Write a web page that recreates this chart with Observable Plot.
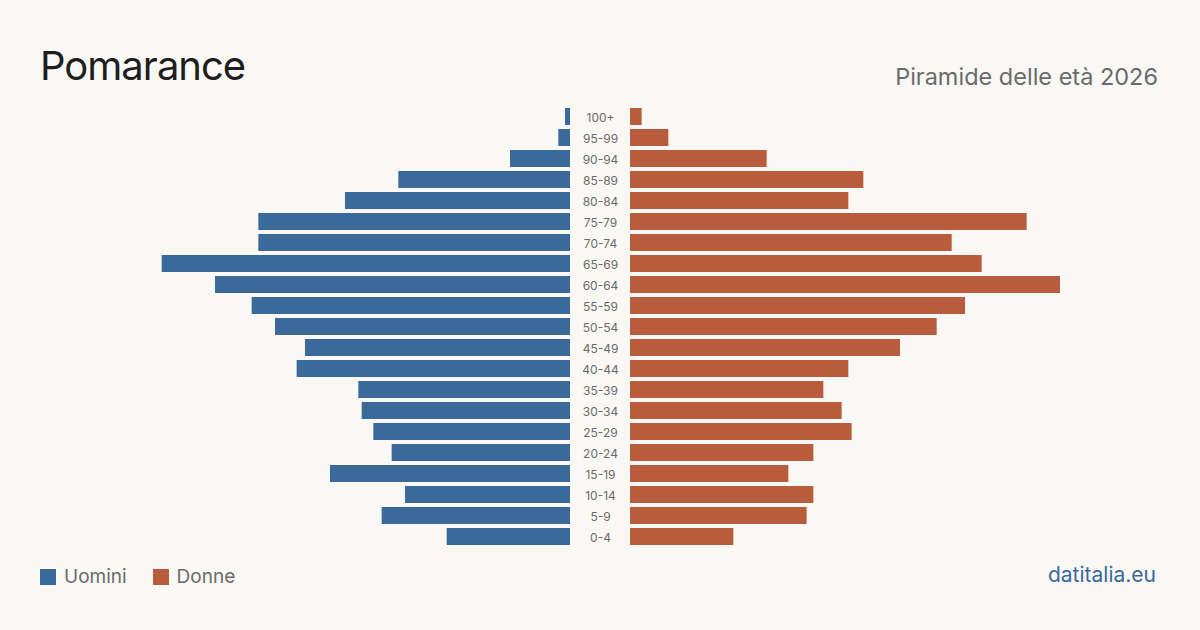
<!DOCTYPE html>
<html lang="it">
<head>
<meta charset="utf-8">
<script src="https://cdn.jsdelivr.net/npm/d3@7"></script>
<script src="https://cdn.jsdelivr.net/npm/@observablehq/plot@0.6"></script>
<style>
  html, body { margin: 0; padding: 0; background: #f9f8f4; }
  #page { position: relative; width: 1200px; height: 630px; overflow: hidden; background: #f9f8f4; font-family: Inter, "Noto Sans", sans-serif; }
  #title { position: absolute; left: 40px; top: 46px; font-size: 40px; color: #1e1e1e; line-height: 1; letter-spacing: -1px; }
  #subtitle { position: absolute; right: 42px; top: 65px; font-size: 23.5px; color: #6b6b6b; line-height: 1; }
  #legend { position: absolute; left: 40px; top: 567px; display: flex; align-items: center; font-size: 19px; color: #6b6b6b; line-height: 20px; }
  #legend .sw { width: 16px; height: 16px; display: inline-block; margin-right: 8px; }
  #legend .item { display: flex; align-items: center; margin-right: 26px; }
  #source { position: absolute; right: 44px; top: 565px; font-size: 21px; color: #3b6a9a; line-height: 20px; }
  #chart { position: absolute; left: 0; top: 0; }
</style>
</head>
<body>
<div id="page">
  <div id="chart"></div>
  <div id="title">Pomarance</div>
  <div id="subtitle">Piramide delle età 2026</div>
  <div id="legend">
    <span class="item"><span class="sw" style="background:#3b6a9a"></span>Uomini</span>
    <span class="item"><span class="sw" style="background:#b95c3c"></span>Donne</span>
  </div>
  <div id="source">datitalia.eu</div>
</div>
<script>
// Age classes, oldest first (top of the pyramid)
const ages = ["100+", "95-99", "90-94", "85-89", "80-84", "75-79", "70-74", "65-69", "60-64", "55-59",
  "50-54", "45-49", "40-44", "35-39", "30-34", "25-29", "20-24", "15-19", "10-14", "5-9", "0-4"];

// Residents by age class
const males   = [3, 7, 36, 103, 135, 187, 187, 245, 213, 191, 177, 159, 164, 127, 125, 118, 107, 144, 99, 113, 74];
const females = [7, 23, 82, 140, 131, 238, 193, 211, 258, 201, 184, 162, 131, 116, 127, 133, 110, 95, 110, 106, 62];

const colorMen = "#3b6a9a";
const colorWomen = "#b95c3c";

const rows = ages.map((age, i) => ({age, m: males[i], f: females[i]}));

const gap = 30; // half-width of the central label column

const chart = Plot.plot({
  width: 1200,
  height: 630,
  marginTop: 106,
  marginBottom: 83,
  marginLeft: 0,
  marginRight: 0,
  style: {background: "transparent", fontFamily: "Inter, 'Noto Sans', sans-serif"},
  x: {domain: [-360, 360], axis: null},
  y: {domain: ages, axis: null, paddingInner: 4 / 21, paddingOuter: 2 / 21},
  marks: [
    Plot.barX(rows, {y: "age", x1: 0, x2: d => -d.m, dx: -gap, fill: colorMen}),
    Plot.barX(rows, {y: "age", x1: 0, x2: d => d.f, dx: gap, fill: colorWomen}),
    Plot.text(rows, {y: "age", x: 0, text: "age", fill: "#6b6b6b", fontSize: 12, dy: 1})
  ]
});

document.getElementById("chart").appendChild(chart);
</script>
</body>
</html>
